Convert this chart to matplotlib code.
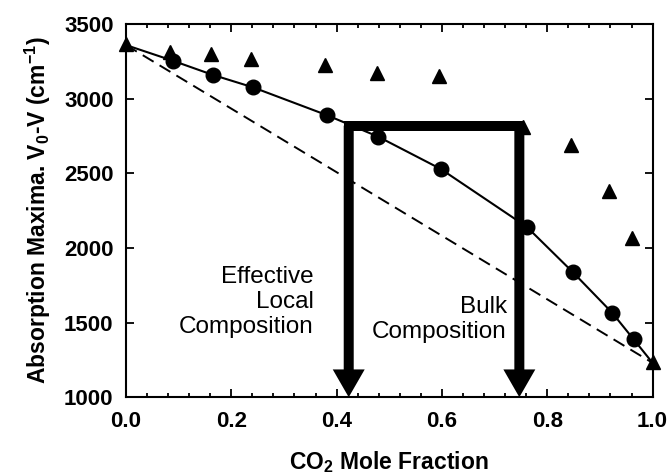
#!/usr/bin/env python3
"""Absorption maxima vs CO2 mole fraction, with local/bulk composition arrows."""

import matplotlib
matplotlib.use('Agg')
import matplotlib.pyplot as plt
from matplotlib.ticker import MultipleLocator

plt.rcParams['font.family'] = ['Liberation Sans', 'DejaVu Sans']
plt.rcParams['mathtext.fontset'] = 'custom'
plt.rcParams['mathtext.rm'] = 'Liberation Sans'
plt.rcParams['mathtext.bf'] = 'Liberation Sans:bold'

# measured points (circles) and the fitted curve through them
x_circ = [0.089, 0.165, 0.241, 0.381, 0.479, 0.598, 0.761, 0.848, 0.923, 0.964]
y_circ = [3255, 3160, 3077, 2891, 2746, 2529, 2142, 1840, 1567, 1388]
x_fit = [0.0] + x_circ + [1.0]
y_fit = [3360] + y_circ + [1230]

# second series (triangles)
x_tri = [0.0, 0.083, 0.161, 0.237, 0.378, 0.476, 0.594, 0.754, 0.845, 0.917, 0.960, 1.0]
y_tri = [3365, 3316, 3300, 3265, 3225, 3175, 3150, 2810, 2690, 2385, 2065, 1235]

# ideal mixing line
x_ideal = [0.0, 1.0]
y_ideal = [3360, 1230]

# composition arrows
x_local = 0.423
x_bulk = 0.747
y_bar = 2820
y_floor = 1000


def main():
    fig = plt.figure(figsize=(6.7, 4.74), dpi=100)
    ax = fig.add_axes([0.188, 0.162, 0.786, 0.787])

    ax.plot(x_ideal, y_ideal, color='black', lw=1.4, ls=(0, (6.5, 3.6)))
    ax.plot(x_fit, y_fit, color='black', lw=1.5)
    ax.plot(x_circ, y_circ, 'o', color='black', ms=10.5, clip_on=False)
    ax.plot(x_tri, y_tri, '^', color='black', ms=10.5, clip_on=False,
            zorder=5)

    # bracket with two downward arrows
    ax.plot([x_local, x_bulk], [y_bar, y_bar], color='black', lw=7.2,
            solid_capstyle='projecting', zorder=4)
    for xa in (x_local, x_bulk):
        ax.annotate('', xy=(xa, y_floor), xytext=(xa, y_bar),
                    arrowprops=dict(arrowstyle='simple, head_length=2.0, '
                                    'head_width=2.3, tail_width=0.72',
                                    mutation_scale=10, color='black',
                                    shrinkA=0, shrinkB=0, lw=0),
                    zorder=4)

    ax.text(0.357, 1640, 'Effective\nLocal\nComposition', ha='right',
            va='center', fontsize=17.5, linespacing=1.17)
    ax.text(0.723, 1522, 'Bulk\nComposition', ha='right', va='center',
            fontsize=17.5, linespacing=1.17)

    ax.set_xlim(0, 1)
    ax.set_ylim(1000, 3500)
    ax.xaxis.set_major_locator(MultipleLocator(0.2))
    ax.xaxis.set_minor_locator(MultipleLocator(0.04))
    ax.yaxis.set_major_locator(MultipleLocator(500))
    ax.tick_params(which='both', direction='in', top=True, right=True,
                   width=1.3)
    ax.tick_params(which='major', length=6, labelsize=16, pad=10)
    ax.tick_params(axis='y', which='major', pad=9)
    ax.tick_params(which='minor', length=3)
    for lab in ax.get_xticklabels() + ax.get_yticklabels():
        lab.set_fontweight('bold')
    for sp in ax.spines.values():
        sp.set_linewidth(1.5)

    ax.set_xlabel(r'CO$_\mathbf{2}$ Mole Fraction', fontsize=16.5,
                  fontweight='bold', labelpad=12)
    ax.set_ylabel(r'Absorption Maxima. V$_\mathbf{0}$-V (cm$^\mathbf{-1}$)',
                  fontsize=16.5, fontweight='bold', labelpad=8)

    fig.savefig('out.png', dpi=100)
    return 0


if __name__ == '__main__':
    main()
